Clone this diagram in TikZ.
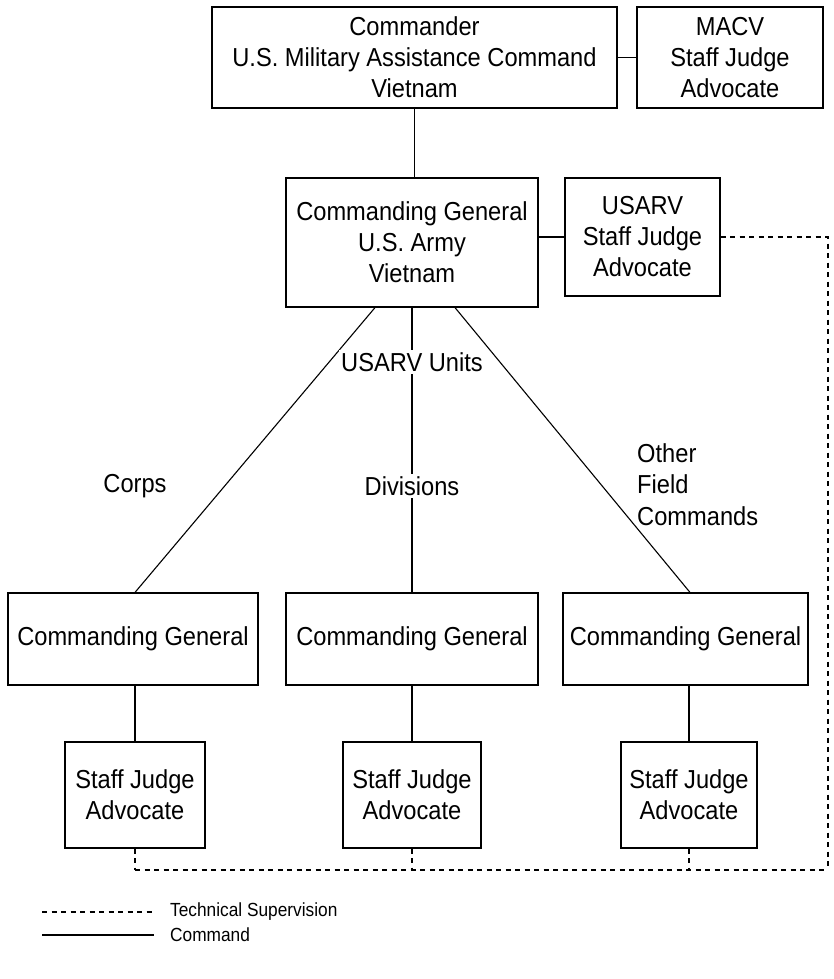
\documentclass[tikz,border=0pt]{standalone}
\usepackage{fontspec}
\setmainfont{Liberation Sans}[FakeStretch=0.91]
\usetikzlibrary{calc}
\begin{document}
\begin{tikzpicture}[x=1pt,y=-1pt,
  box/.style={draw,line width=1.2pt,inner sep=0pt,align=center,font=\fontsize{26}{31}\selectfont},
  lbl/.style={inner sep=2pt,align=center,font=\fontsize{26}{31.5}\selectfont},
  cmdline/.style={line width=1.1pt},
  tech/.style={line width=1.1pt,dash pattern=on 5pt off 4.5pt},
  legtext/.style={anchor=west,inner sep=0pt,font=\fontsize{19}{23}\selectfont}]
\useasboundingbox (0,0) rectangle (833,979);
% top row
\node[box,minimum width=405pt,minimum height=101pt] (cmd) at (414.5,57.5) {Commander\\U.S. Military Assistance Command\\Vietnam};
\node[box,minimum width=186pt,minimum height=101pt] (macv) at (730,57.5) {MACV\\Staff Judge\\Advocate};
% second row
\node[box,minimum width=252pt,minimum height=129pt] (cgusarv) at (412,242.5) {Commanding General\\U.S. Army\\Vietnam};
\node[box,minimum width=155pt,minimum height=118pt] (usarvsja) at (642.5,237) {USARV\\Staff Judge\\Advocate};
% third row
\node[box,minimum width=250pt,minimum height=92pt] (cg1) at (133,639) {Commanding General};
\node[box,minimum width=252pt,minimum height=92pt] (cg2) at (412,639) {Commanding General};
\node[box,minimum width=245pt,minimum height=92pt] (cg3) at (685.5,639) {Commanding General};
% fourth row
\node[box,minimum width=140pt,minimum height=106pt] (sja1) at (135,795) {Staff Judge\\Advocate};
\node[box,minimum width=138pt,minimum height=106pt] (sja2) at (412,795) {Staff Judge\\Advocate};
\node[box,minimum width=136pt,minimum height=106pt] (sja3) at (689,795) {Staff Judge\\Advocate};
% command lines
\draw[cmdline] (cmd.east |- macv.west) -- (macv.west);
\draw[cmdline] (cmd.south) -- (cmd.south |- cgusarv.north);
\draw[cmdline] (cgusarv.east |- usarvsja.west) -- (usarvsja.west);
\draw[cmdline] ($(cgusarv.south)+(-37,0)$) -- ($(cg1.north)+(2,0)$);
\draw[cmdline] (cgusarv.south) -- (cg2.north);
\draw[cmdline] ($(cgusarv.south)+(43,0)$) -- ($(cg3.north)+(4.5,0)$);
\draw[cmdline] (cg1.south -| sja1.north) -- (sja1.north);
\draw[cmdline] (cg2.south) -- (sja2.north);
\draw[cmdline] (cg3.south -| sja3.north) -- (sja3.north);
% labels
\node[lbl,fill=white] (units) at (412,362) {USARV Units};
\node[lbl,fill=white] (divs) at (412,486) {Divisions};
\node[lbl] (corps) at (135,486) {Corps};
\node[lbl,anchor=west,align=left] (other) at (635,484.5) {Other\\Field\\Commands};
% technical supervision
\coordinate (rb) at (828,870);
\draw[tech] (usarvsja.east) -| (rb);
\draw[tech] (sja1.south) -- (sja1.south |- rb);
\draw[tech] (sja2.south) -- (sja2.south |- rb);
\draw[tech] (sja3.south) -- (sja3.south |- rb);
\draw[tech] (sja1.south |- rb) -- (rb);
% legend
\coordinate (l1a) at (42,912);
\coordinate (l1b) at (154,912);
\coordinate (l2a) at (42,935);
\coordinate (l2b) at (154,935);
\draw[tech] (l1a) -- (l1b);
\draw[cmdline] (l2a) -- (l2b);
\node[legtext] (ltech) at (170,912) {Technical Supervision};
\node[legtext] (lcmd) at (170,935) {Command};
\end{tikzpicture}
\end{document}
